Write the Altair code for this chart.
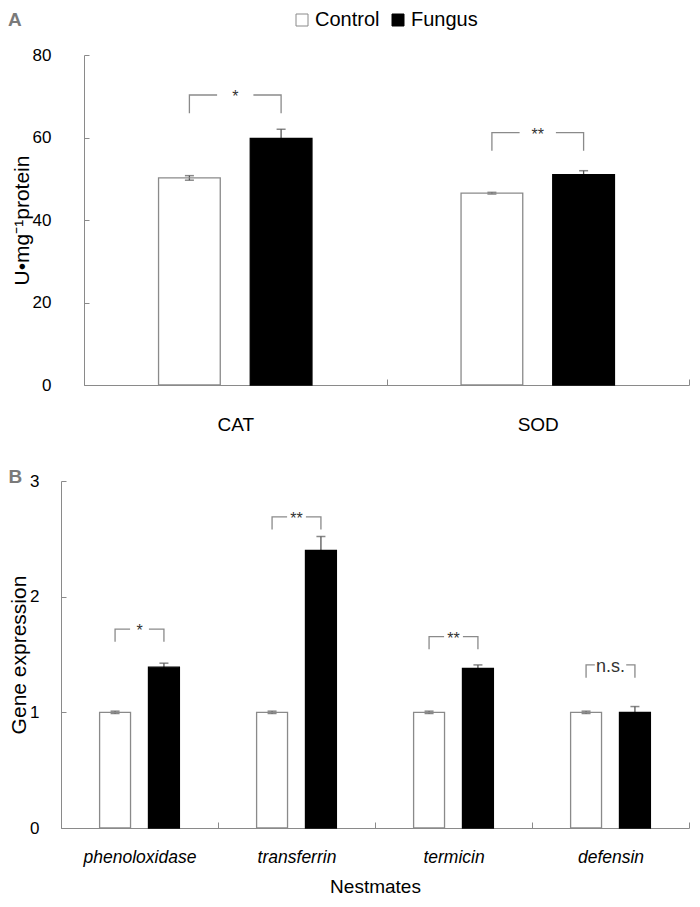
import altair as alt
import pandas as pd

# ---------------- data ----------------
groups = ["Control", "Fungus"]

enzymes = ["CAT", "SOD"]
enz_control = [50.2, 46.5]
enz_control_err = [0.55, 0.2]
enz_fungus = [59.8, 51.0]
enz_fungus_err = [2.2, 0.95]
enz_sig = ["*", "**"]
enz_bracket_top = [70.3, 61.2]
enz_bracket_leg = [65.9, 56.8]

genes = ["phenoloxidase", "transferrin", "termicin", "defensin"]
gene_control = [1.0, 1.0, 1.0, 1.0]
gene_control_err = [0.01, 0.01, 0.01, 0.01]
gene_fungus = [1.39, 2.40, 1.38, 1.00]
gene_fungus_err = [0.035, 0.12, 0.03, 0.05]
gene_sig = ["*", "**", "**", "n.s."]
gene_bracket_top = [1.72, 2.69, 1.655, 1.41]
gene_bracket_leg = [1.61, 2.58, 1.545, 1.30]

# ---------------- style ----------------
FONT = "Liberation Sans"
GRAY = "#8a8a8a"
ERR = "#555555"
LETTER = "#7a7a7a"
GAP = {"*": 0.06, "**": 0.06, "n.s.": 0.10}
SIG_SIZE = {"*": 16, "**": 16, "n.s.": 18}
W = 628


def panel(cats, ctrl, ctrl_err, fung, fung_err, sig, btop, bleg,
          ydom, yvals, ytitle, xtitle, height, p_in, p_out,
          y_axis_shift, y_lab_pad, y_title_pad, x_lab_pad, x_title_pad,
          x_label_size, italic, legend, title):
    rows = []
    for i, c in enumerate(cats):
        rows.append(dict(cat=c, group="Control", v=ctrl[i],
                         lo=ctrl[i] - ctrl_err[i], hi=ctrl[i] + ctrl_err[i]))
        rows.append(dict(cat=c, group="Fungus", v=fung[i],
                         lo=fung[i] - fung_err[i], hi=fung[i] + fung_err[i]))
    bars_df = pd.DataFrame(rows)

    # bar centre offset as a fraction of the band (from the offset scale paddings)
    cen = 0.5 / (2 - p_in + 2 * p_out)
    brows = []
    for i, c in enumerate(cats):
        g = GAP[sig[i]]
        pts_l = [(-cen, bleg[i]), (-cen, btop[i]), (-g, btop[i])]
        pts_r = [(g, btop[i]), (cen, btop[i]), (cen, bleg[i])]
        for k, (o, yy) in enumerate(pts_l):
            brows.append(dict(cat=c, seg=f"{i}L", k=k, off=o, v=yy))
        for k, (o, yy) in enumerate(pts_r):
            brows.append(dict(cat=c, seg=f"{i}R", k=k, off=o, v=yy))
    br_df = pd.DataFrame(brows)
    txt_df = pd.DataFrame(dict(cat=cats, v=btop, t=sig,
                               fs=[SIG_SIZE[s] for s in sig]))

    x_axis = alt.Axis(
        title=xtitle, tickBand="extent", tickSize={"expr": "-6"},
        labelAngle=0, labelPadding=x_lab_pad, domainColor=GRAY,
        tickColor=GRAY, labelFontSize=x_label_size, labelFont=FONT,
        labelFontStyle="italic" if italic else "normal",
        labelColor="black", titleFontSize=19, titleFont=FONT,
        titleFontWeight="normal", titleColor="black",
        titlePadding=x_title_pad)
    X = alt.X("cat:N", sort=cats,
              scale=alt.Scale(paddingInner=0, paddingOuter=0,
                              range=[y_axis_shift, W]),
              axis=x_axis)
    y_axis = alt.Axis(
        title=ytitle, values=yvals, format="d", grid=False,
        offset=-y_axis_shift,
        tickSize={"expr": "-5"}, labelPadding=y_lab_pad,
        domainColor=GRAY, tickColor=GRAY, labelFontSize=17,
        labelFont=FONT, labelColor="black", titleFontSize=21,
        titleFont=FONT, titleFontWeight="normal", titleColor="black",
        titlePadding=y_title_pad)
    yscale = alt.Scale(domain=ydom, nice=False, zero=True)

    def Y(field):
        return alt.Y(field, scale=yscale, axis=y_axis, title=ytitle)

    XO = alt.XOffset("group:N", sort=groups,
                     scale=alt.Scale(paddingInner=p_in, paddingOuter=p_out))

    base = alt.Chart(bars_df)
    errs = base.mark_rule(color=ERR, strokeWidth=1.3).encode(
        x=X, xOffset=XO, y=Y("lo:Q"), y2="hi:Q")
    cap_hi = base.mark_tick(orient="horizontal", size=9, thickness=1.5,
                            color=ERR).encode(x=X, xOffset=XO, y=Y("hi:Q"))
    cap_lo = base.mark_tick(orient="horizontal", size=9, thickness=1.5,
                            color=ERR).encode(x=X, xOffset=XO, y=Y("lo:Q"))

    if legend:
        leg = alt.Legend(
            title="A", titleOrient="left", titleFontSize=19,
            titleFont=FONT, titleFontWeight="bold", titleColor=LETTER,
            titlePadding=270, titleBaseline="middle", titleAnchor="middle",
            orient="none", legendX=-53, legendY=-45,
            direction="horizontal", symbolType="square",
            symbolSize=144, symbolStrokeWidth=1,
            labelFontSize=20, labelFont=FONT,
            labelColor="black", labelOffset=3, columnPadding=8)
    else:
        leg = None
    bars = base.mark_bar(strokeWidth=1.3).encode(
        x=X, xOffset=XO, y=Y("v:Q"),
        fill=alt.Fill("group:N", sort=groups,
                      scale=alt.Scale(domain=groups,
                                      range=["transparent", "black"]),
                      legend=leg),
        stroke=alt.Stroke("group:N", sort=groups,
                          scale=alt.Scale(domain=groups,
                                          range=[GRAY, "black"]),
                          legend=leg),
    )
    brackets = alt.Chart(br_df).mark_line(color=GRAY, strokeWidth=1.3).encode(
        x=X,
        xOffset=alt.XOffset("off:Q", scale=alt.Scale(domain=[-0.5, 0.5])),
        y=Y("v:Q"), detail="seg:N", order="k:Q")
    stars = alt.Chart(txt_df).mark_text(
        font=FONT, baseline="middle", color="#333333", dy=2
    ).encode(x=X, y=Y("v:Q"), text="t:N",
             size=alt.Size("fs:Q", scale=None, legend=None))

    layer = alt.layer(errs, cap_hi, cap_lo, bars, brackets, stars).resolve_scale(
        xOffset="independent"
    ).properties(width=W, height=height)
    if title is not None:
        layer = layer.properties(title=title)
    return layer


A = panel(enzymes, enz_control, enz_control_err, enz_fungus, enz_fungus_err,
          enz_sig, enz_bracket_top, enz_bracket_leg,
          [0, 80], [0, 20, 40, 60, 80], "U•mg⁻¹protein", None,
          330, 0.327, 0.813, 23, 38, 0, 36, 10, 19, False, True, None)
B = panel(genes, gene_control, gene_control_err, gene_fungus, gene_fungus_err,
          gene_sig, gene_bracket_top, gene_bracket_leg,
          [0, 3], [0, 1, 2, 3], "Gene expression", "Nestmates",
          347, 0.367, 0.79, 0, 27, 0, 26, 12, 17.5, True, False,
          alt.TitleParams("B", anchor="start", frame="bounds",
                          fontSize=19, font=FONT, fontWeight="bold",
                          color=LETTER, offset=-15))

chart = alt.concat(A, B, columns=1, spacing=34).resolve_scale(
    fill="independent", stroke="independent"
).properties(
    padding={"top": 2, "left": 0, "right": 0, "bottom": 0},
    background="white",
).configure_view(stroke=None)

chart.save("out.html", embed_options={"renderer": "svg", "actions": False})
